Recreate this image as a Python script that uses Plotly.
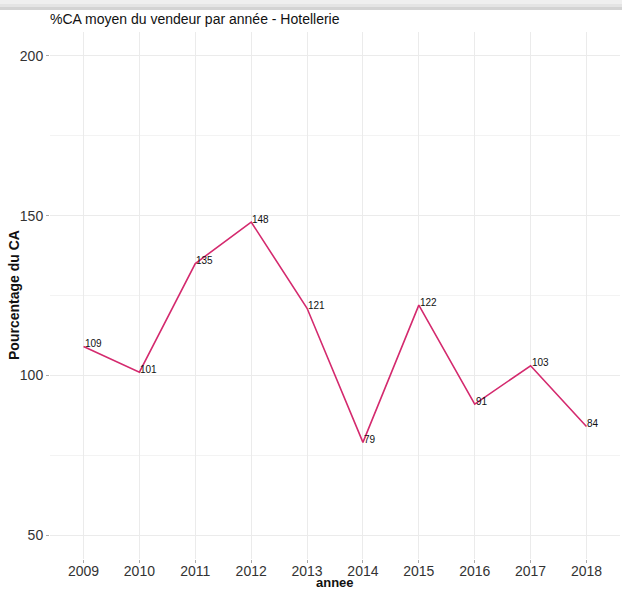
import plotly.graph_objects as go

annees = [2009, 2010, 2011, 2012, 2013, 2014, 2015, 2016, 2017, 2018]
pourcentage = [109, 101, 135, 148, 121, 79, 122, 91, 103, 84]
y_ticks = [50, 100, 150, 200]
y_minor = [75, 125, 175]

W, H = 622, 589
ML, MR, MT, MB = 50, 2, 32, 30
plot_w = W - ML - MR
plot_h = H - MT - MB

def py(p):
    return (H - MB - p) / plot_h

def px(p):
    return (p - ML) / plot_w

FONT = "Liberation Sans, Arial"

fig = go.Figure()
fig.add_trace(go.Scatter(
    x=annees, y=pourcentage, mode="lines",
    line=dict(color="#D42A6E", width=1.6),
    hoverinfo="x+y", showlegend=False,
))

for x, y in zip(annees, pourcentage):
    fig.add_annotation(
        x=x, y=y, text=str(y), showarrow=False,
        xanchor="left", yanchor="middle", xshift=-1, yshift=3,
        font=dict(family=FONT, size=10, color="#111111"),
    )

# axis titles
fig.add_annotation(
    xref="paper", yref="paper", x=px(14), y=py(295), text="<b>Pourcentage du CA</b>",
    textangle=-90, showarrow=False, xanchor="center", yanchor="middle",
    font=dict(family=FONT, size=14, color="#111111"),
)
fig.add_annotation(
    xref="paper", yref="paper", x=px(335), y=py(582), text="<b>annee</b>",
    showarrow=False, xanchor="center", yanchor="middle", borderpad=0,
    font=dict(family=FONT, size=13, color="#111111"),
)

# top shadow band
for (p0, p1, col) in [(0, 4, "#efefef"), (4, 7, "#e4e4e4"), (7, 10, "#d3d3d3")]:
    fig.add_shape(type="rect", xref="paper", yref="paper",
                  x0=px(0), x1=px(W),
                  y0=py(p1), y1=py(p0), line=dict(width=0), fillcolor=col, layer="above")

fig.update_layout(
    width=W, height=H,
    margin=dict(l=ML, r=MR, t=MT, b=MB),
    paper_bgcolor="white", plot_bgcolor="white",
    font=dict(family=FONT, color="#222222"),
    title=dict(
        text="%CA moyen du vendeur par année - Hotellerie",
        xref="container", yref="container",
        x=50 / W, xanchor="left", y=1 - 19 / H, yanchor="middle",
        font=dict(size=14, color="#111111"),
    ),
    xaxis=dict(
        range=[2008.4, 2018.6], tickvals=annees, ticktext=[str(a) for a in annees],
        showgrid=True, gridcolor="#ebebeb", gridwidth=1, zeroline=False,
        ticks="outside", ticklen=3, tickcolor="#aaaaaa", tickwidth=1,
        tickfont=dict(size=14, color="#333333"), ticklabelstandoff=-4,
        automargin=False, showline=False,
    ),
    yaxis=dict(
        range=[42.5, 207.5], tickvals=y_ticks,
        showgrid=True, gridcolor="#ebebeb", gridwidth=1, zeroline=False,
        ticks="outside", ticklen=3, tickcolor="#aaaaaa", tickwidth=1,
        tickfont=dict(size=14, color="#333333"),
        minor=dict(tickvals=y_minor, showgrid=True, gridcolor="#f3f3f3", gridwidth=1, ticks=""),
        automargin=False, showline=False,
    ),
)

fig.write_html("out.html", post_script="document.body.style.margin='0';",
               config={"displayModeBar": False})
